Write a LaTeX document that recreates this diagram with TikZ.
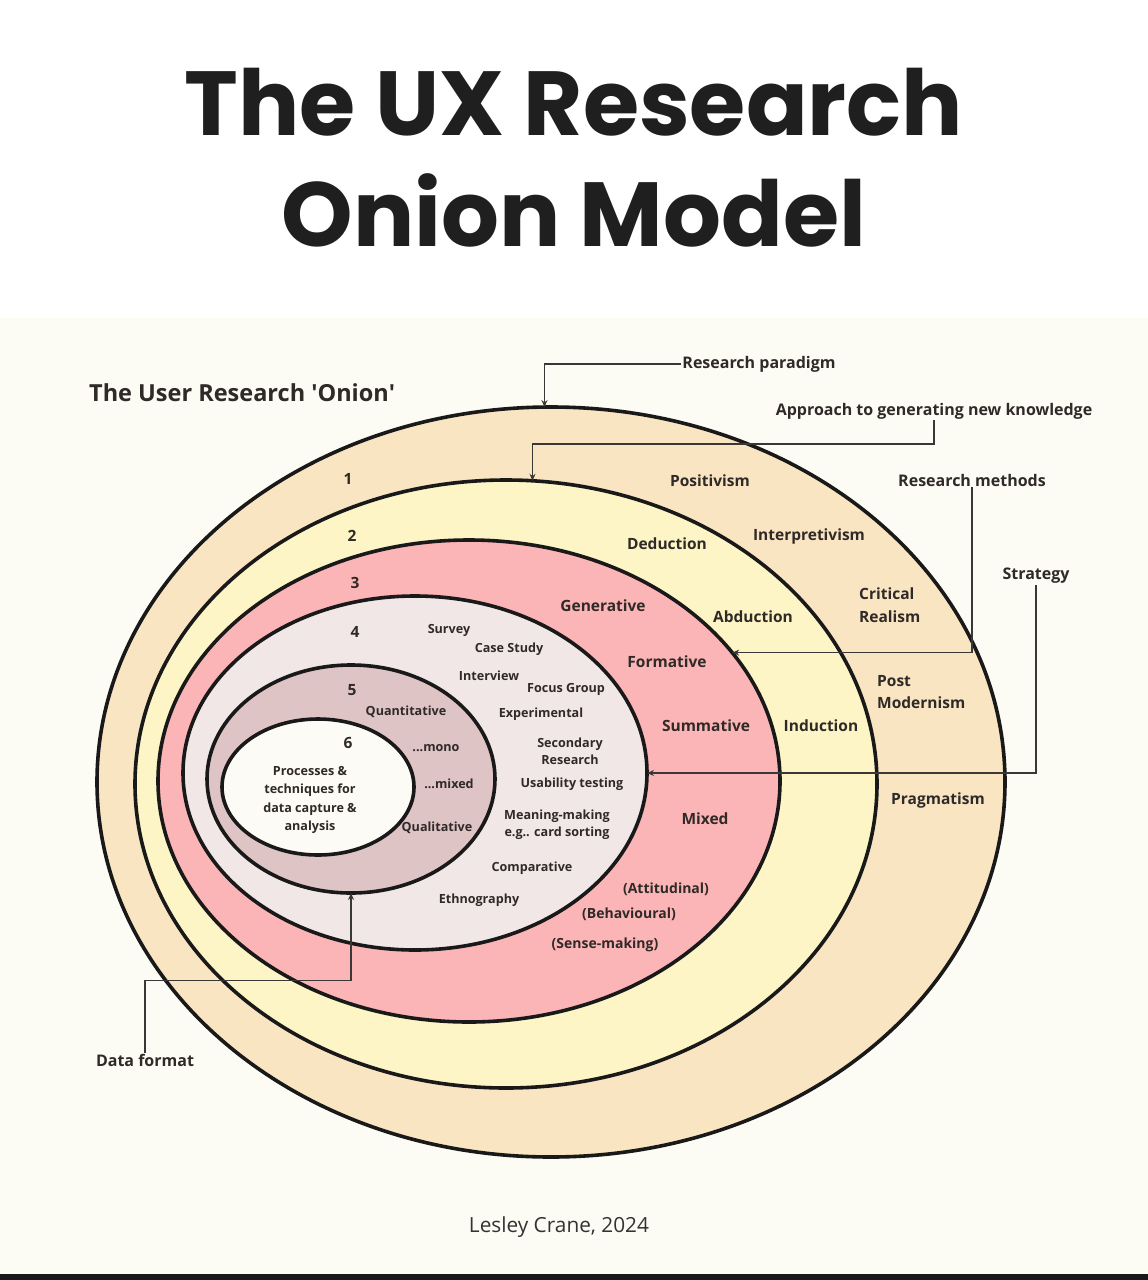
\documentclass[tikz,border=0pt]{standalone}
\usepackage{fontspec}
\setmainfont{Open Sans}
\newfontfamily\titlefont{Poppins}
\usepackage{xcolor}
\usetikzlibrary{arrows.meta,positioning,shapes.geometric}
\definecolor{cream}{HTML}{FCFBF4}
\definecolor{ringA}{HTML}{F9E5C2}
\definecolor{ringB}{HTML}{FDF5C6}
\definecolor{ringC}{HTML}{FBB5B6}
\definecolor{ringD}{HTML}{F2E7E7}
\definecolor{ringE}{HTML}{DFC4C6}
\definecolor{ringF}{HTML}{FDFBF5}
\definecolor{ink}{HTML}{2F2927}
\definecolor{wire}{HTML}{3A3836}

\begin{document}
\begin{tikzpicture}[x=1pt,y=-1pt,
          every node/.style={font=\bfseries\fontsize{15.5}{18}\selectfont,text=ink,inner sep=1pt},
          ring/.style={draw=black!90,line width=3.6pt,ellipse,inner sep=0pt,outer sep=0pt},
          layer/.style={font=\bfseries\fontsize{15.5}{22.5}\selectfont,align=left},
          method/.style={font=\bfseries\fontsize{12.6}{17}\selectfont,align=center},
          callout/.style={font=\bfseries\fontsize{16}{19}\selectfont},
          conn/.style={-{Stealth[length=7pt,width=6pt]},line width=1.5pt,draw=wire},
      ]
        \useasboundingbox (0,0) rectangle (1148,1280);
        \fill[white] (0,0) rectangle (1148,318);
        \fill[cream] (0,318) rectangle (1148,1274);
        \fill[black!90] (0,1274) rectangle (1148,1280);

        \node[font=\titlefont\bfseries\fontsize{91}{111}\selectfont,text=black!88,align=center]
          (title) at (574,158) {The UX Research\\Onion Model};

        \node[ring,fill=ringA,minimum width=908,minimum height=750] (ring1) at (551,782) {};
        \node[ring,fill=ringB,minimum width=742,minimum height=608] (ring2) at (506,784) {};
        \node[ring,fill=ringC,minimum width=622,minimum height=482] (ring3) at (469,781) {};
        \node[ring,fill=ringD,minimum width=464,minimum height=354] (ring4) at (415,773) {};
        \node[ring,fill=ringE,minimum width=288,minimum height=228] (ring5) at (351,779) {};
        \node[ring,fill=ringF,minimum width=192,minimum height=136] (ring6) at (318,787) {};

        \node[font=\bfseries\fontsize{23.5}{27}\selectfont,anchor=west] (onion) at (88,393)
          {The User Research \textquotesingle Onion\textquotesingle};
        \node[callout] (paradigm) at (759,364) {Research paradigm};
        \node[callout] (approach) at (934,411) {Approach to generating new knowledge};
        \node[callout] (methods) at (972,480) {Research methods};
        \node[callout] (strategy) at (1036,576) {Strategy};
        \node[callout] (dataformat) at (145,1060) {Data format};

        \node[layer] (n1) at (348,479) {1};
        \node[layer] (n2) at (352,536) {2};
        \node[layer] (n3) at (355,583) {3};
        \node[layer] (n4) at (355,632) {4};
        \node[layer] (n5) at (352,690) {5};
        \node[layer] (n6) at (348,743) {6};

        \node[layer] (positivism) at (710,481) {Positivism};
        \node[layer] (interp) at (809,536) {Interpretivism};
        \node[layer,anchor=west] (critical) at (858,605) {Critical\\Realism};
        \node[layer,anchor=west] (postmod) at (876,692) {Post\\Modernism};
        \node[layer] (pragmatism) at (938,800) {Pragmatism};

        \node[layer] (deduction) at (667,544) {Deduction};
        \node[layer] (abduction) at (753,617) {Abduction};
        \node[layer] (induction) at (821,726) {Induction};

        \node[layer] (generative) at (603,606) {Generative};
        \node[layer] (formative) at (667,662) {Formative};
        \node[layer] (summative) at (706,726) {Summative};
        \node[layer] (mixed) at (705,819) {Mixed};
        \node[layer,font=\bfseries\fontsize{14}{16}\selectfont] (attitudinal) at (666,889) {(Attitudinal)};
        \node[layer,font=\bfseries\fontsize{14}{16}\selectfont] (behavioural) at (629,914) {(Behavioural)};
        \node[layer,font=\bfseries\fontsize{14}{16}\selectfont] (sensemaking) at (605,945) {(Sense-making)};

        \node[method] (survey) at (449,630) {Survey};
        \node[method] (casestudy) at (509,649) {Case Study};
        \node[method] (interview) at (489,676) {Interview};
        \node[method] (focus) at (566,689) {Focus Group};
        \node[method] (experimental) at (541,714) {Experimental};
        \node[method] (secondary) at (570,751) {Secondary\\Research};
        \node[method] (usability) at (572,784) {Usability testing};
        \node[method] (meaning) at (557,825) {Meaning-making\\e.g.. card sorting};
        \node[method] (comparative) at (532,868) {Comparative};
        \node[method] (ethnography) at (479,900) {Ethnography};

        \node[method] (quanti) at (406,712) {Quantitative};
        \node[method] (mono) at (436,748) {...mono};
        \node[method] (mixedmode) at (449,784) {...mixed};
        \node[method] (quali) at (437,828) {Qualitative};

        \node[method,font=\bfseries\fontsize{12.6}{18.5}\selectfont] (processes) at (310,800)
          {Processes \&\\techniques for\\data capture \&\\analysis};

        \draw[conn] (paradigm.west) -| (ring1.91);
        \draw[conn] (approach.south) -- ++(0,24) -| (ring2.85);
        \draw[conn] (methods.south) |- (ring3.26);
        \draw[conn] (strategy.south) |- (ring4.east);
        \draw[conn] (dataformat.north) -- ++(0,-72) -| (ring5.south);

        \node[font=\fontsize{20.8}{24}\selectfont,text=black!80] (credit) at (559,1227) {Lesley Crane, 2024};
      \end{tikzpicture}
\end{document}
